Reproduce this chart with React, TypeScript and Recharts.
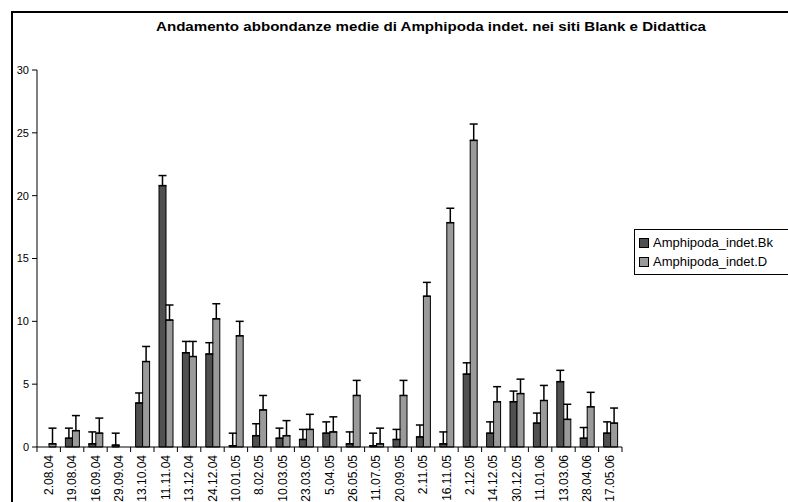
import { Bar, BarChart, ErrorBar, Legend, XAxis, YAxis } from "recharts";

const dates = [
  "2.08.04", "19.08.04", "16.09.04", "29.09.04", "13.10.04", "11.11.04", "13.12.04",
  "24.12.04", "10.01.05", "8.02.05", "10.03.05", "23.03.05", "5.04.05", "26.05.05",
  "11.07.05", "20.09.05", "2.11.05", "16.11.05", "2.12.05", "14.12.05", "30.12.05",
  "11.01.06", "13.03.06", "28.04.06", "17.05.06",
];

// mean abundance, site Blank
const meanBk = [0, 0.7, 0.25, 0.15, 3.5, 20.8, 7.5, 7.4, 0.1, 0.9, 0.7, 0.6, 1.1, 0.25, 0.1, 0.6, 0.8, 0.25, 5.8, 1.1, 3.6, 1.9, 5.2, 0.7, 1.1];
// mean abundance, site Didattica
const meanD = [0.25, 1.3, 1.1, 0, 6.8, 10.1, 7.2, 10.2, 8.85, 2.95, 0.9, 1.4, 1.2, 4.1, 0.25, 4.1, 12.0, 17.85, 24.4, 3.6, 4.25, 3.7, 2.2, 3.2, 1.9];
// upper error (std. error) above each mean
const errBk = [0.9, 0.8, 0.95, 0.95, 0.8, 0.8, 0.9, 0.9, 1.0, 0.95, 0.8, 0.8, 0.9, 0.95, 1.0, 0.8, 0.95, 0.95, 0.9, 0.9, 0.85, 0.8, 0.9, 0.85, 0.9];
const errD = [1.25, 1.2, 1.2, 1.2, 1.2, 1.2, 1.2, 1.2, 1.15, 1.15, 1.2, 1.2, 1.2, 1.2, 1.25, 1.2, 1.1, 1.15, 1.3, 1.2, 1.15, 1.2, 1.2, 1.15, 1.2];

const yTicks = [0, 5, 10, 15, 20, 25, 30];

const data = dates.map((date, i) => ({
  date,
  bk: meanBk[i],
  d: meanD[i],
  bkErr: [0, errBk[i]],
  dErr: [0, errD[i]],
}));

const FONT = "Arial, 'Liberation Sans', sans-serif";

function DateTick(props: any) {
  const { x, y, payload, index } = props;
  const half = payload?.offset || 11.7;
  const last = index === dates.length - 1;
  return (
    <g>
      <line x1={x - half} y1={y} x2={x - half} y2={y + 5} stroke="#000" />
      {last && <line x1={x + half} y1={y} x2={x + half} y2={y + 5} stroke="#000" />}
      <text
        x={0}
        y={0}
        transform={`translate(${x + 4},${y + 8}) rotate(-90)`}
        textAnchor="end"
        fontSize={12}
        fontFamily={FONT}
        fill="#000"
      >
        {payload.value}
      </text>
    </g>
  );
}

function LegendBox(props: any) {
  const items = props.payload || [];
  return (
    <div
      style={{
        border: "1px solid #000",
        background: "#fff",
        padding: "3px 0 3px 4px",
        fontFamily: FONT,
        fontSize: 13,
        color: "#000",
      }}
    >
      {items.map((item: any) => (
        <div key={item.value} style={{ display: "flex", alignItems: "center", height: 19 }}>
          <span
            style={{
              width: 8,
              height: 8,
              border: "1px solid #000",
              background: item.color,
              marginRight: 4,
              display: "inline-block",
            }}
          />
          {item.value}
        </div>
      ))}
    </div>
  );
}

export default function App() {
  return (
    <div style={{ position: "fixed", left: 0, top: 0, width: 788, height: 502, overflow: "hidden", background: "#fff" }}>
      <div
        style={{
          position: "absolute",
          left: 11,
          top: 11,
          width: 800,
          height: 520,
          border: "2px solid #000",
        }}
      />
      <svg style={{ position: "absolute", left: 0, top: 0 }} width={788} height={40}>
        <text x={431} y={31} textAnchor="middle" fontFamily={FONT} fontWeight="bold" fontSize={12} textLength={550} lengthAdjust="spacingAndGlyphs">
          Andamento abbondanze medie di Amphipoda indet. nei siti Blank e Didattica
        </text>
      </svg>
      <div style={{ position: "absolute", left: 0, top: 0 }}>
        <BarChart
          width={788}
          height={502}
          data={data}
          margin={{ top: 70, right: 166, bottom: 0, left: 0 }}
          barSize={7}
          barGap={0}
        >
          <XAxis
            dataKey="date"
            interval={0}
            height={55}
            tickSize={0}
            tickMargin={0}
            tickLine={false}
            axisLine={{ stroke: "#000" }}
            tick={<DateTick />}
          />
          <YAxis
            domain={[0, 30]}
            ticks={yTicks}
            width={37}
            tickSize={5}
            tickMargin={3}
            axisLine={{ stroke: "#000" }}
            tickLine={{ stroke: "#000" }}
            tick={{ fontSize: 11, fontFamily: FONT, fill: "#000" }}
          />
          <Legend
            layout="vertical"
            align="center"
            verticalAlign="middle"
            wrapperStyle={{ left: 634, top: 229, width: 170 }}
            content={<LegendBox />}
          />
          <Bar dataKey="bk" name="Amphipoda_indet.Bk" fill="#505050" stroke="#000" strokeWidth={1} isAnimationActive={false}>
            <ErrorBar dataKey="bkErr" width={4} stroke="#000" strokeWidth={1.5} />
          </Bar>
          <Bar dataKey="d" name="Amphipoda_indet.D" fill="#9a9a9a" stroke="#000" strokeWidth={1} isAnimationActive={false}>
            <ErrorBar dataKey="dErr" width={4} stroke="#000" strokeWidth={1.5} />
          </Bar>
        </BarChart>
      </div>
    </div>
  );
}
